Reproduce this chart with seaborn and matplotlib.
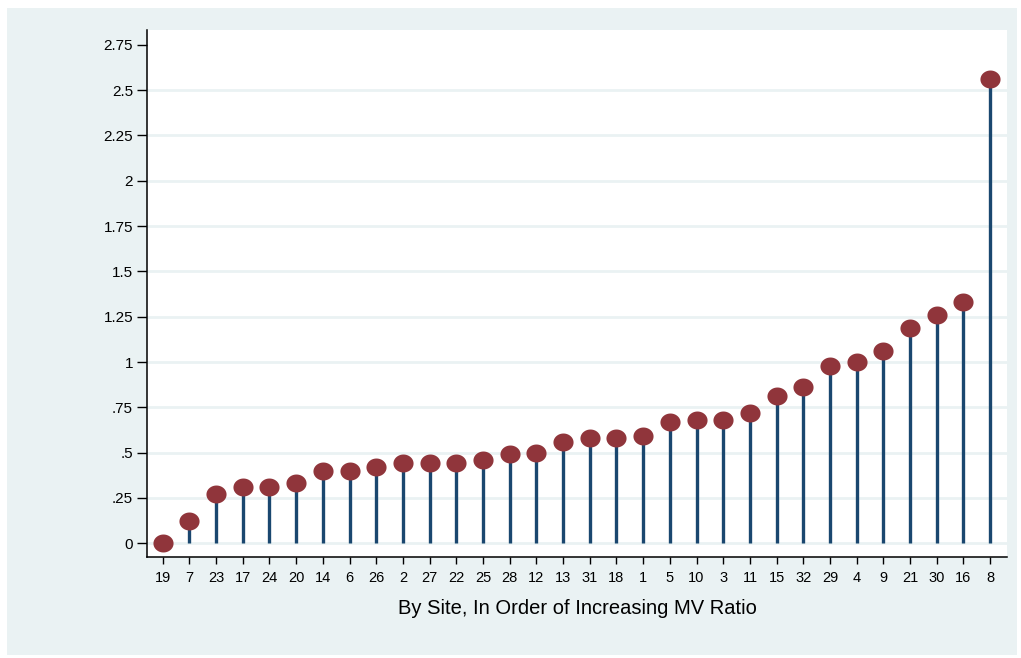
import numpy as np
import pandas as pd
import matplotlib
matplotlib.use("Agg")
import matplotlib.pyplot as plt
from matplotlib.patches import Rectangle
from matplotlib.path import Path
import seaborn as sns

# Sites sorted by MV ratio, with their ratios
sites = ["19", "7", "23", "17", "24", "20", "14", "6", "26", "2", "27", "22",
         "25", "28", "12", "13", "31", "18", "1", "5", "10", "3", "11", "15",
         "32", "29", "4", "9", "21", "30", "16", "8"]
mv_ratio = [0.00, 0.12, 0.27, 0.31, 0.31, 0.33, 0.40, 0.40, 0.42, 0.44, 0.44, 0.44,
            0.46, 0.49, 0.50, 0.56, 0.58, 0.58, 0.59, 0.67, 0.68, 0.68, 0.72, 0.81,
            0.86, 0.98, 1.00, 1.06, 1.19, 1.26, 1.33, 2.56]
y_ticks = [0, 0.25, 0.5, 0.75, 1, 1.25, 1.5, 1.75, 2, 2.25, 2.5, 2.75]
y_tick_labels = ["0", ".25", ".5", ".75", "1", "1.25", "1.5", "1.75", "2",
                 "2.25", "2.5", "2.75"]
x_title = "By Site, In Order of Increasing MV Ratio"

bg = "#EAF2F3"
navy = "#1A476F"
maroon = "#90353B"

sns.set_theme(style="white")
plt.rcParams["font.family"] = ["Liberation Sans", "DejaVu Sans"]

df = pd.DataFrame({"pos": np.arange(len(sites)), "site": sites, "ratio": mv_ratio})

fig = plt.figure(figsize=(10.21, 6.58), dpi=100, facecolor="white")
panel = Rectangle((7 / 1021, 3 / 658), 1010 / 1021, 647 / 658,
                  transform=fig.transFigure, facecolor=bg, edgecolor="none")
panel.set_zorder(-10)
fig.add_artist(panel)

ax = fig.add_axes([147 / 1021, 1 - 557 / 658, 860 / 1021, 527 / 658])
ax.set_zorder(1)
ax.set_facecolor("white")

# horizontal grid (not at the top tick)
for t in y_ticks[:-1]:
    ax.axhline(t, color=bg, lw=2.0, zorder=1)

# stems
ax.vlines(df["pos"], 0, df["ratio"], color=navy, lw=2.4, zorder=2)

# slightly oval heads
theta = np.linspace(0, 2 * np.pi, 60)
oval = Path(np.column_stack([1.12 * np.cos(theta), np.sin(theta)]), closed=True)
sns.scatterplot(data=df, x="pos", y="ratio", ax=ax, marker=oval, s=210,
                color=maroon, edgecolor=maroon, linewidth=0, zorder=3,
                legend=False)

ax.set_xlim(-0.588, 31.63)
ax.set_ylim(-0.076, 2.832)
ax.set_xticks(df["pos"])
ax.set_xticklabels(sites)
ax.set_yticks(y_ticks)
ax.set_yticklabels(y_tick_labels)

for s in ["top", "right"]:
    ax.spines[s].set_visible(False)
for s in ["left", "bottom"]:
    ax.spines[s].set_color("black")
    ax.spines[s].set_linewidth(1.1)

ax.tick_params(axis="y", which="major", left=True, length=7, width=1.0,
               color="black", pad=3, labelsize=11, labelcolor="black")
ax.tick_params(axis="x", which="major", bottom=True, length=5, width=1.0,
               color="black", pad=5, labelsize=10.5, labelcolor="black")

ax.set_xlabel(x_title, fontsize=14.5, color="black", labelpad=10)
ax.set_ylabel("")

fig.savefig("out.png", dpi=100, facecolor="white")
